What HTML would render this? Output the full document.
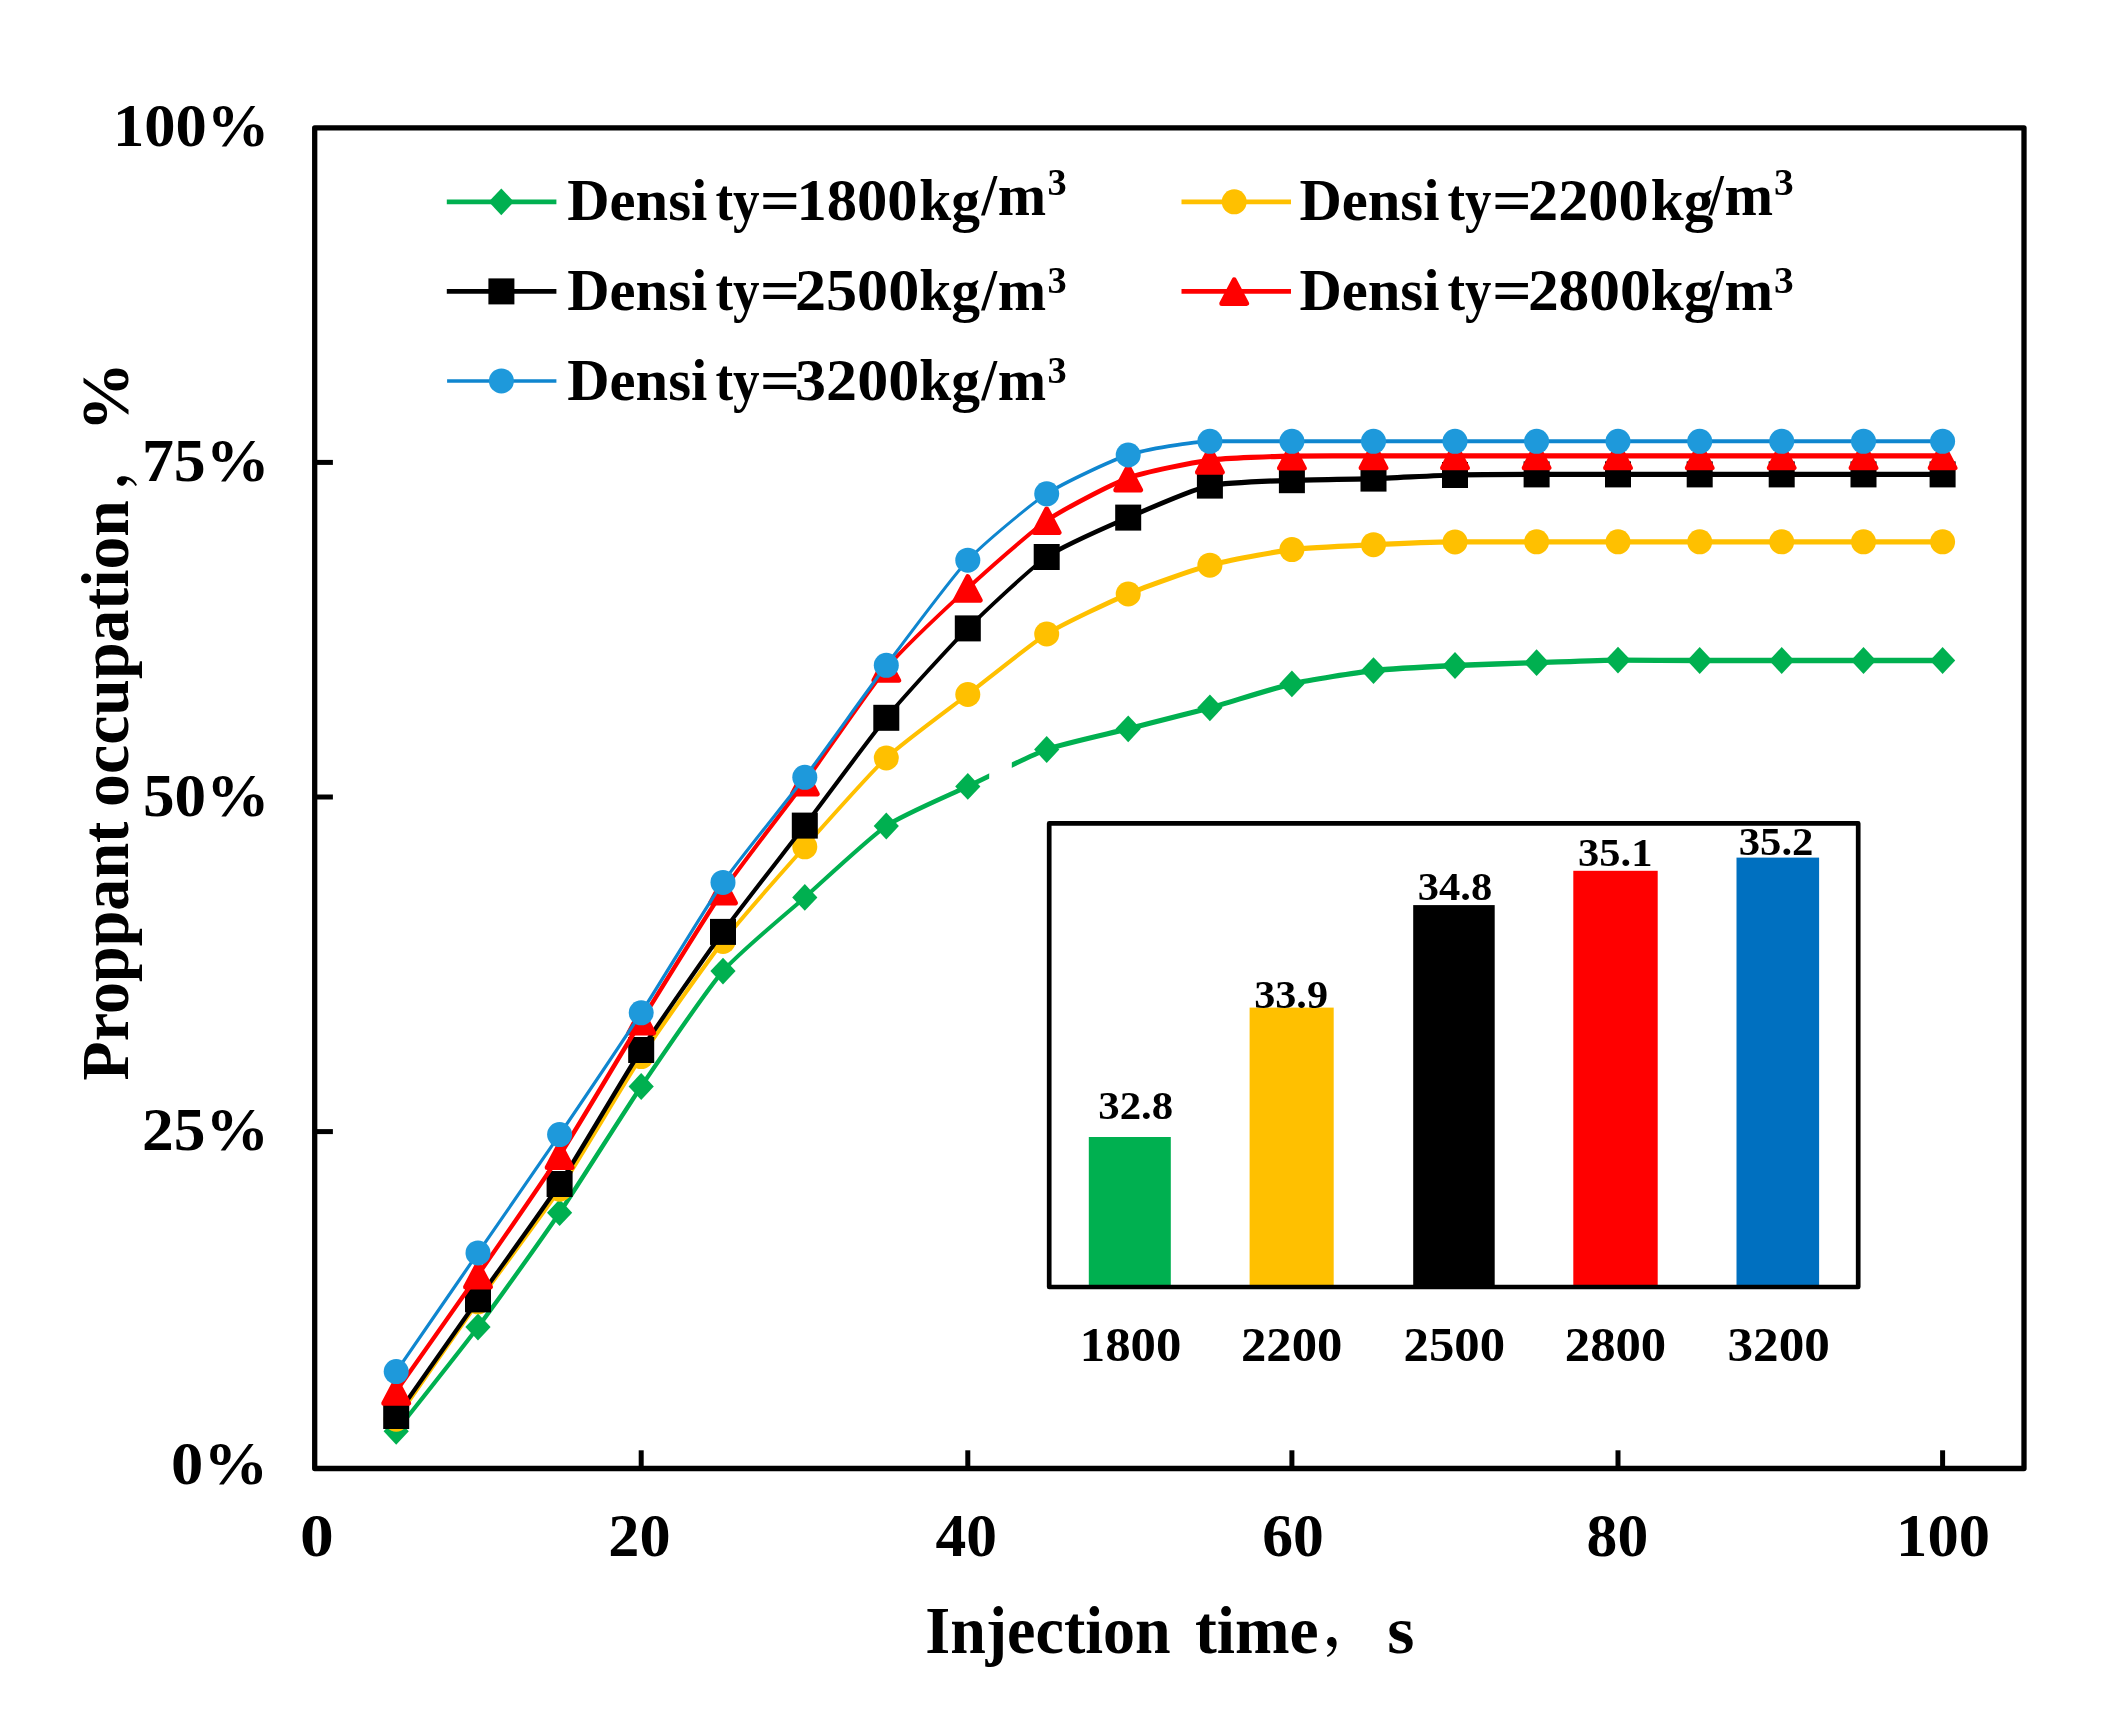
<!DOCTYPE html>
<html lang="en">
<head>
<meta charset="utf-8">
<title>Proppant occupation vs injection time</title>
<style>
html,body{margin:0;padding:0;background:#fff;}
body{width:2126px;height:1734px;overflow:hidden;}
svg{display:block;filter:blur(0.5px);}
text{font-family:"Liberation Serif","Noto Serif CJK SC",serif;font-weight:bold;fill:#000;}
</style>
</head>
<body>
<svg width="2126" height="1734" viewBox="0 0 2126 1734">
<rect x="0" y="0" width="2126" height="1734" fill="#ffffff"/>

<rect x="314.7" y="127.8" width="1709.3" height="1340.7" fill="none" stroke="#000" stroke-width="5.3" stroke-linejoin="round"/>
<line x1="314.7" y1="462.4" x2="332.9" y2="462.4" stroke="#000" stroke-width="5"/>
<line x1="314.7" y1="797.0" x2="332.9" y2="797.0" stroke="#000" stroke-width="5"/>
<line x1="314.7" y1="1131.6" x2="332.9" y2="1131.6" stroke="#000" stroke-width="5"/>
<line x1="641.2" y1="1468.5" x2="641.2" y2="1450.3" stroke="#000" stroke-width="5"/>
<line x1="967.8" y1="1468.5" x2="967.8" y2="1450.3" stroke="#000" stroke-width="5"/>
<line x1="1291.9" y1="1468.5" x2="1291.9" y2="1450.3" stroke="#000" stroke-width="5"/>
<line x1="1618.0" y1="1468.5" x2="1618.0" y2="1450.3" stroke="#000" stroke-width="5"/>
<line x1="1942.6" y1="1468.5" x2="1942.6" y2="1450.3" stroke="#000" stroke-width="5"/>
<text y="146.4"><tspan x="112.9" font-size="60.8" textLength="156.5" lengthAdjust="spacingAndGlyphs">100%</tspan></text>
<text y="481.3"><tspan x="141.9" font-size="60.8" textLength="127.6" lengthAdjust="spacingAndGlyphs">75%</tspan></text>
<text y="816.0"><tspan x="143.0" font-size="60.8" textLength="126.3" lengthAdjust="spacingAndGlyphs">50%</tspan></text>
<text y="1150.4"><tspan x="142.1" font-size="60.8" textLength="126.8" lengthAdjust="spacingAndGlyphs">25%</tspan></text>
<text y="1483.9"><tspan x="171.1" font-size="60.8" textLength="96.9" lengthAdjust="spacingAndGlyphs">0%</tspan></text>
<text y="1556.3"><tspan x="300.1" font-size="60.8" textLength="33.8" lengthAdjust="spacingAndGlyphs">0</tspan></text>
<text y="1556.3"><tspan x="608.3" font-size="60.8" textLength="62.3" lengthAdjust="spacingAndGlyphs">20</tspan></text>
<text y="1556.3"><tspan x="935.6" font-size="60.8" textLength="61.5" lengthAdjust="spacingAndGlyphs">40</tspan></text>
<text y="1556.3"><tspan x="1262.2" font-size="60.8" textLength="61.6" lengthAdjust="spacingAndGlyphs">60</tspan></text>
<text y="1556.3"><tspan x="1586.6" font-size="60.8" textLength="61.6" lengthAdjust="spacingAndGlyphs">80</tspan></text>
<text y="1556.3"><tspan x="1896.1" font-size="60.8" textLength="93.9" lengthAdjust="spacingAndGlyphs">100</tspan></text>
<text y="1652.9"><tspan x="925.3" font-size="68.5" textLength="245.3" lengthAdjust="spacingAndGlyphs">Injection</tspan> <tspan x="1194.9" font-size="68.5" textLength="123.7" lengthAdjust="spacingAndGlyphs">time</tspan><tspan x="1324.0" y="1645.0" font-size="54">，</tspan><tspan x="1387.2" y="1652.9" font-size="68.5" textLength="27.2" lengthAdjust="spacingAndGlyphs">s</tspan></text>
<text transform="translate(127.9,0) rotate(-90)" y="0"><tspan x="-1080.5" font-size="68.5" textLength="258.9" lengthAdjust="spacingAndGlyphs">Proppant</tspan> <tspan x="-806.9" font-size="68.5" textLength="306.8" lengthAdjust="spacingAndGlyphs">occupation</tspan><tspan x="-488.7" y="-3.4" font-size="54">，</tspan><tspan x="-431.6" y="0.0" font-size="68.5" textLength="69.6" lengthAdjust="spacingAndGlyphs">%</tspan></text>
<path d="M396.2,1431.3 C412.6,1410.4 461.6,1348.9 478.0,1327.0" fill="none" stroke="#00b050" stroke-width="4.17" stroke-linecap="round"/>
<path d="M478.0,1327.0 C494.3,1305.2 543.3,1236.8 559.6,1212.7" fill="none" stroke="#00b050" stroke-width="4.31" stroke-linecap="round"/>
<path d="M559.6,1212.7 C575.9,1188.7 624.9,1110.6 641.2,1086.5" fill="none" stroke="#00b050" stroke-width="4.45" stroke-linecap="round"/>
<path d="M641.2,1086.5 C657.6,1062.3 706.6,990.0 723.0,971.1" fill="none" stroke="#00b050" stroke-width="4.32" stroke-linecap="round"/>
<path d="M723.0,971.1 C739.4,952.2 788.4,911.9 804.8,897.4" fill="none" stroke="#00b050" stroke-width="3.94" stroke-linecap="round"/>
<path d="M804.8,897.4 C821.1,882.9 870.0,837.1 886.3,826.0" fill="none" stroke="#00b050" stroke-width="3.99" stroke-linecap="round"/>
<path d="M886.3,826.0 C902.6,814.9 951.5,794.2 967.8,786.4" fill="none" stroke="#00b050" stroke-width="4.77" stroke-linecap="round"/>
<path d="M967.8,786.4 C983.6,778.9 1030.9,755.2 1046.7,749.5" fill="none" stroke="#00b050" stroke-width="4.80" stroke-linecap="round"/>
<path d="M1046.7,749.5 C1063.0,743.6 1111.9,733.0 1128.2,728.8" fill="none" stroke="#00b050" stroke-width="5.14" stroke-linecap="round"/>
<path d="M1128.2,728.8 C1144.5,724.6 1193.6,712.3 1209.9,707.8" fill="none" stroke="#00b050" stroke-width="5.13" stroke-linecap="round"/>
<path d="M1209.9,707.8 C1226.3,703.3 1275.5,687.6 1291.9,683.9" fill="none" stroke="#00b050" stroke-width="5.09" stroke-linecap="round"/>
<path d="M1291.9,683.9 C1308.2,680.2 1357.2,672.4 1373.5,670.6" fill="none" stroke="#00b050" stroke-width="5.23" stroke-linecap="round"/>
<path d="M1373.5,670.6 C1389.8,668.8 1438.7,666.3 1455.0,665.5" fill="none" stroke="#00b050" stroke-width="5.29" stroke-linecap="round"/>
<path d="M1455.0,665.5 C1471.3,664.7 1520.3,663.2 1536.6,662.7" fill="none" stroke="#00b050" stroke-width="5.30" stroke-linecap="round"/>
<path d="M1536.6,662.7 C1552.9,662.2 1601.7,660.1 1618.0,660.1" fill="none" stroke="#00b050" stroke-width="5.30" stroke-linecap="round"/>
<path d="M1618.0,660.1 C1634.3,660.1 1683.4,660.5 1699.7,660.5" fill="none" stroke="#00b050" stroke-width="5.30" stroke-linecap="round"/>
<path d="M1699.7,660.5 C1716.1,660.5 1765.3,660.5 1781.7,660.5" fill="none" stroke="#00b050" stroke-width="5.30" stroke-linecap="round"/>
<path d="M1781.7,660.5 C1798.1,660.5 1847.1,660.5 1863.5,660.5" fill="none" stroke="#00b050" stroke-width="5.30" stroke-linecap="round"/>
<path d="M1863.5,660.5 C1879.3,660.5 1926.8,660.5 1942.6,660.5" fill="none" stroke="#00b050" stroke-width="5.30" stroke-linecap="round"/>
<rect x="989.2" y="730" width="22.6" height="70" fill="#fff"/>
<polygon points="396.2,1417.9 408.8,1431.3 396.2,1444.7 383.6,1431.3" fill="#00b050"/>
<polygon points="478.0,1313.6 490.6,1327.0 478.0,1340.4 465.4,1327.0" fill="#00b050"/>
<polygon points="559.6,1199.3 572.2,1212.7 559.6,1226.1 547.0,1212.7" fill="#00b050"/>
<polygon points="641.2,1073.1 653.8,1086.5 641.2,1099.9 628.6,1086.5" fill="#00b050"/>
<polygon points="723.0,957.7 735.6,971.1 723.0,984.5 710.4,971.1" fill="#00b050"/>
<polygon points="804.8,884.0 817.4,897.4 804.8,910.8 792.2,897.4" fill="#00b050"/>
<polygon points="886.3,812.6 898.9,826.0 886.3,839.4 873.7,826.0" fill="#00b050"/>
<polygon points="967.8,773.0 980.4,786.4 967.8,799.8 955.2,786.4" fill="#00b050"/>
<polygon points="1046.7,736.1 1059.3,749.5 1046.7,762.9 1034.1,749.5" fill="#00b050"/>
<polygon points="1128.2,715.4 1140.8,728.8 1128.2,742.2 1115.6,728.8" fill="#00b050"/>
<polygon points="1209.9,694.4 1222.5,707.8 1209.9,721.2 1197.3,707.8" fill="#00b050"/>
<polygon points="1291.9,670.5 1304.5,683.9 1291.9,697.3 1279.3,683.9" fill="#00b050"/>
<polygon points="1373.5,657.2 1386.1,670.6 1373.5,684.0 1360.9,670.6" fill="#00b050"/>
<polygon points="1455.0,652.1 1467.6,665.5 1455.0,678.9 1442.4,665.5" fill="#00b050"/>
<polygon points="1536.6,649.3 1549.2,662.7 1536.6,676.1 1524.0,662.7" fill="#00b050"/>
<polygon points="1618.0,646.7 1630.6,660.1 1618.0,673.5 1605.4,660.1" fill="#00b050"/>
<polygon points="1699.7,647.1 1712.3,660.5 1699.7,673.9 1687.1,660.5" fill="#00b050"/>
<polygon points="1781.7,647.1 1794.3,660.5 1781.7,673.9 1769.1,660.5" fill="#00b050"/>
<polygon points="1863.5,647.1 1876.1,660.5 1863.5,673.9 1850.9,660.5" fill="#00b050"/>
<polygon points="1942.6,647.1 1955.2,660.5 1942.6,673.9 1930.0,660.5" fill="#00b050"/>
<path d="M396.2,1419.2 C412.6,1395.7 461.6,1324.8 478.0,1301.8" fill="none" stroke="#ffc000" stroke-width="4.27" stroke-linecap="round"/>
<path d="M478.0,1301.8 C494.3,1278.8 543.3,1213.7 559.6,1189.2" fill="none" stroke="#ffc000" stroke-width="4.21" stroke-linecap="round"/>
<path d="M559.6,1189.2 C575.9,1164.7 624.9,1081.3 641.2,1056.6" fill="none" stroke="#ffc000" stroke-width="4.43" stroke-linecap="round"/>
<path d="M641.2,1056.6 C657.6,1031.8 706.6,962.5 723.0,941.5" fill="none" stroke="#ffc000" stroke-width="4.24" stroke-linecap="round"/>
<path d="M723.0,941.5 C739.4,920.5 788.4,865.2 804.8,846.8" fill="none" stroke="#ffc000" stroke-width="3.94" stroke-linecap="round"/>
<path d="M804.8,846.8 C821.1,828.5 870.0,773.2 886.3,758.0" fill="none" stroke="#ffc000" stroke-width="3.83" stroke-linecap="round"/>
<path d="M886.3,758.0 C902.6,742.8 951.5,707.1 967.8,694.5" fill="none" stroke="#ffc000" stroke-width="4.10" stroke-linecap="round"/>
<path d="M967.8,694.5 C983.6,682.3 1030.9,643.9 1046.7,634.0" fill="none" stroke="#ffc000" stroke-width="4.13" stroke-linecap="round"/>
<path d="M1046.7,634.0 C1063.0,623.8 1111.9,600.9 1128.2,594.0" fill="none" stroke="#ffc000" stroke-width="4.67" stroke-linecap="round"/>
<path d="M1128.2,594.0 C1144.5,587.1 1193.6,569.6 1209.9,565.2" fill="none" stroke="#ffc000" stroke-width="4.90" stroke-linecap="round"/>
<path d="M1209.9,565.2 C1226.3,560.7 1275.5,551.7 1291.9,549.6" fill="none" stroke="#ffc000" stroke-width="5.11" stroke-linecap="round"/>
<path d="M1291.9,549.6 C1308.2,547.6 1357.2,545.5 1373.5,544.7" fill="none" stroke="#ffc000" stroke-width="5.19" stroke-linecap="round"/>
<path d="M1373.5,544.7 C1389.8,543.9 1438.7,542.0 1455.0,541.9" fill="none" stroke="#ffc000" stroke-width="5.20" stroke-linecap="round"/>
<path d="M1455.0,541.9 C1471.3,541.8 1520.3,541.8 1536.6,541.8" fill="none" stroke="#ffc000" stroke-width="5.20" stroke-linecap="round"/>
<path d="M1536.6,541.8 C1552.9,541.8 1601.7,541.8 1618.0,541.8" fill="none" stroke="#ffc000" stroke-width="5.20" stroke-linecap="round"/>
<path d="M1618.0,541.8 C1634.3,541.8 1683.4,541.8 1699.7,541.8" fill="none" stroke="#ffc000" stroke-width="5.20" stroke-linecap="round"/>
<path d="M1699.7,541.8 C1716.1,541.8 1765.3,541.8 1781.7,541.8" fill="none" stroke="#ffc000" stroke-width="5.20" stroke-linecap="round"/>
<path d="M1781.7,541.8 C1798.1,541.8 1847.1,541.8 1863.5,541.8" fill="none" stroke="#ffc000" stroke-width="5.20" stroke-linecap="round"/>
<path d="M1863.5,541.8 C1879.3,541.8 1926.8,541.8 1942.6,541.8" fill="none" stroke="#ffc000" stroke-width="5.20" stroke-linecap="round"/>
<circle cx="396.2" cy="1419.2" r="12.5" fill="#ffc000"/>
<circle cx="478.0" cy="1301.8" r="12.5" fill="#ffc000"/>
<circle cx="559.6" cy="1189.2" r="12.5" fill="#ffc000"/>
<circle cx="641.2" cy="1056.6" r="12.5" fill="#ffc000"/>
<circle cx="723.0" cy="941.5" r="12.5" fill="#ffc000"/>
<circle cx="804.8" cy="846.8" r="12.5" fill="#ffc000"/>
<circle cx="886.3" cy="758.0" r="12.5" fill="#ffc000"/>
<circle cx="967.8" cy="694.5" r="12.5" fill="#ffc000"/>
<circle cx="1046.7" cy="634.0" r="12.5" fill="#ffc000"/>
<circle cx="1128.2" cy="594.0" r="12.5" fill="#ffc000"/>
<circle cx="1209.9" cy="565.2" r="12.5" fill="#ffc000"/>
<circle cx="1291.9" cy="549.6" r="12.5" fill="#ffc000"/>
<circle cx="1373.5" cy="544.7" r="12.5" fill="#ffc000"/>
<circle cx="1455.0" cy="541.9" r="12.5" fill="#ffc000"/>
<circle cx="1536.6" cy="541.8" r="12.5" fill="#ffc000"/>
<circle cx="1618.0" cy="541.8" r="12.5" fill="#ffc000"/>
<circle cx="1699.7" cy="541.8" r="12.5" fill="#ffc000"/>
<circle cx="1781.7" cy="541.8" r="12.5" fill="#ffc000"/>
<circle cx="1863.5" cy="541.8" r="12.5" fill="#ffc000"/>
<circle cx="1942.6" cy="541.8" r="12.5" fill="#ffc000"/>
<path d="M396.2,1416.0 C412.6,1392.7 461.6,1322.6 478.0,1299.4" fill="none" stroke="#000000" stroke-width="4.26" stroke-linecap="round"/>
<path d="M478.0,1299.4 C494.3,1276.2 543.3,1208.9 559.6,1184.0" fill="none" stroke="#000000" stroke-width="4.25" stroke-linecap="round"/>
<path d="M559.6,1184.0 C575.9,1159.1 624.9,1075.2 641.2,1050.0" fill="none" stroke="#000000" stroke-width="4.44" stroke-linecap="round"/>
<path d="M641.2,1050.0 C657.6,1024.8 706.6,954.3 723.0,931.9" fill="none" stroke="#000000" stroke-width="4.27" stroke-linecap="round"/>
<path d="M723.0,931.9 C739.4,909.5 788.4,847.0 804.8,825.6" fill="none" stroke="#000000" stroke-width="4.12" stroke-linecap="round"/>
<path d="M804.8,825.6 C821.1,804.2 870.0,737.5 886.3,717.8" fill="none" stroke="#000000" stroke-width="4.15" stroke-linecap="round"/>
<path d="M886.3,717.8 C902.6,698.1 951.5,644.7 967.8,628.4" fill="none" stroke="#000000" stroke-width="3.84" stroke-linecap="round"/>
<path d="M967.8,628.4 C983.6,612.6 1030.9,568.0 1046.7,557.0" fill="none" stroke="#000000" stroke-width="3.86" stroke-linecap="round"/>
<path d="M1046.7,557.0 C1063.0,545.7 1111.9,524.7 1128.2,517.6" fill="none" stroke="#000000" stroke-width="4.68" stroke-linecap="round"/>
<path d="M1128.2,517.6 C1144.5,510.5 1193.6,488.8 1209.9,485.6" fill="none" stroke="#000000" stroke-width="4.84" stroke-linecap="round"/>
<path d="M1209.9,485.6 C1226.3,482.4 1275.5,480.8 1291.9,480.2" fill="none" stroke="#000000" stroke-width="5.19" stroke-linecap="round"/>
<path d="M1291.9,480.2 C1308.2,479.6 1357.2,479.1 1373.5,478.6" fill="none" stroke="#000000" stroke-width="5.20" stroke-linecap="round"/>
<path d="M1373.5,478.6 C1389.8,478.1 1438.7,475.4 1455.0,475.0" fill="none" stroke="#000000" stroke-width="5.19" stroke-linecap="round"/>
<path d="M1455.0,475.0 C1471.3,474.6 1520.3,474.4 1536.6,474.4" fill="none" stroke="#000000" stroke-width="5.20" stroke-linecap="round"/>
<path d="M1536.6,474.4 C1552.9,474.4 1601.7,474.4 1618.0,474.4" fill="none" stroke="#000000" stroke-width="5.20" stroke-linecap="round"/>
<path d="M1618.0,474.4 C1634.3,474.4 1683.4,474.4 1699.7,474.4" fill="none" stroke="#000000" stroke-width="5.20" stroke-linecap="round"/>
<path d="M1699.7,474.4 C1716.1,474.4 1765.3,474.4 1781.7,474.4" fill="none" stroke="#000000" stroke-width="5.20" stroke-linecap="round"/>
<path d="M1781.7,474.4 C1798.1,474.4 1847.1,474.4 1863.5,474.4" fill="none" stroke="#000000" stroke-width="5.20" stroke-linecap="round"/>
<path d="M1863.5,474.4 C1879.3,474.4 1926.8,474.4 1942.6,474.4" fill="none" stroke="#000000" stroke-width="5.20" stroke-linecap="round"/>
<rect x="383.2" y="1403.0" width="26" height="26" fill="#000000"/>
<rect x="465.0" y="1286.4" width="26" height="26" fill="#000000"/>
<rect x="546.6" y="1171.0" width="26" height="26" fill="#000000"/>
<rect x="628.2" y="1037.0" width="26" height="26" fill="#000000"/>
<rect x="710.0" y="918.9" width="26" height="26" fill="#000000"/>
<rect x="791.8" y="812.6" width="26" height="26" fill="#000000"/>
<rect x="873.3" y="704.8" width="26" height="26" fill="#000000"/>
<rect x="954.8" y="615.4" width="26" height="26" fill="#000000"/>
<rect x="1033.7" y="544.0" width="26" height="26" fill="#000000"/>
<rect x="1115.2" y="504.6" width="26" height="26" fill="#000000"/>
<rect x="1196.9" y="472.6" width="26" height="26" fill="#000000"/>
<rect x="1278.9" y="467.2" width="26" height="26" fill="#000000"/>
<rect x="1360.5" y="465.6" width="26" height="26" fill="#000000"/>
<rect x="1442.0" y="462.0" width="26" height="26" fill="#000000"/>
<rect x="1523.6" y="461.4" width="26" height="26" fill="#000000"/>
<rect x="1605.0" y="461.4" width="26" height="26" fill="#000000"/>
<rect x="1686.7" y="461.4" width="26" height="26" fill="#000000"/>
<rect x="1768.7" y="461.4" width="26" height="26" fill="#000000"/>
<rect x="1850.5" y="461.4" width="26" height="26" fill="#000000"/>
<rect x="1929.6" y="461.4" width="26" height="26" fill="#000000"/>
<path d="M396.2,1391.2 C412.6,1368.0 461.6,1298.6 478.0,1275.0" fill="none" stroke="#ff0000" stroke-width="4.25" stroke-linecap="round"/>
<path d="M478.0,1275.0 C494.3,1251.5 543.3,1180.9 559.6,1155.5" fill="none" stroke="#ff0000" stroke-width="4.29" stroke-linecap="round"/>
<path d="M559.6,1155.5 C575.9,1130.1 624.9,1047.4 641.2,1021.0" fill="none" stroke="#ff0000" stroke-width="4.45" stroke-linecap="round"/>
<path d="M641.2,1021.0 C657.6,994.5 706.6,914.9 723.0,891.0" fill="none" stroke="#ff0000" stroke-width="4.40" stroke-linecap="round"/>
<path d="M723.0,891.0 C739.4,867.1 788.4,804.3 804.8,782.0" fill="none" stroke="#ff0000" stroke-width="4.16" stroke-linecap="round"/>
<path d="M804.8,782.0 C821.1,759.8 870.0,687.7 886.3,668.3" fill="none" stroke="#ff0000" stroke-width="4.23" stroke-linecap="round"/>
<path d="M886.3,668.3 C902.6,648.9 951.5,603.2 967.8,588.2" fill="none" stroke="#ff0000" stroke-width="3.71" stroke-linecap="round"/>
<path d="M967.8,588.2 C983.6,573.7 1030.9,531.5 1046.7,520.6" fill="none" stroke="#ff0000" stroke-width="3.95" stroke-linecap="round"/>
<path d="M1046.7,520.6 C1063.0,509.4 1111.9,484.0 1128.2,478.0" fill="none" stroke="#ff0000" stroke-width="4.61" stroke-linecap="round"/>
<path d="M1128.2,478.0 C1144.5,471.9 1193.6,462.4 1209.9,460.2" fill="none" stroke="#ff0000" stroke-width="5.08" stroke-linecap="round"/>
<path d="M1209.9,460.2 C1226.3,458.0 1275.5,456.3 1291.9,456.1" fill="none" stroke="#ff0000" stroke-width="5.19" stroke-linecap="round"/>
<path d="M1291.9,456.1 C1308.2,455.9 1357.2,455.8 1373.5,455.8" fill="none" stroke="#ff0000" stroke-width="5.20" stroke-linecap="round"/>
<path d="M1373.5,455.8 C1389.8,455.8 1438.7,455.8 1455.0,455.8" fill="none" stroke="#ff0000" stroke-width="5.20" stroke-linecap="round"/>
<path d="M1455.0,455.8 C1471.3,455.8 1520.3,455.8 1536.6,455.8" fill="none" stroke="#ff0000" stroke-width="5.20" stroke-linecap="round"/>
<path d="M1536.6,455.8 C1552.9,455.8 1601.7,455.8 1618.0,455.8" fill="none" stroke="#ff0000" stroke-width="5.20" stroke-linecap="round"/>
<path d="M1618.0,455.8 C1634.3,455.8 1683.4,455.8 1699.7,455.8" fill="none" stroke="#ff0000" stroke-width="5.20" stroke-linecap="round"/>
<path d="M1699.7,455.8 C1716.1,455.8 1765.3,455.8 1781.7,455.8" fill="none" stroke="#ff0000" stroke-width="5.20" stroke-linecap="round"/>
<path d="M1781.7,455.8 C1798.1,455.8 1847.1,455.8 1863.5,455.8" fill="none" stroke="#ff0000" stroke-width="5.20" stroke-linecap="round"/>
<path d="M1863.5,455.8 C1879.3,455.8 1926.8,455.8 1942.6,455.8" fill="none" stroke="#ff0000" stroke-width="5.20" stroke-linecap="round"/>
<polygon points="396.2,1379.6 408.6,1403.2 383.8,1403.2" fill="#ff0000" stroke="#ff0000" stroke-width="5" stroke-linejoin="round"/>
<polygon points="478.0,1263.4 490.4,1287.0 465.6,1287.0" fill="#ff0000" stroke="#ff0000" stroke-width="5" stroke-linejoin="round"/>
<polygon points="559.6,1143.9 572.0,1167.5 547.2,1167.5" fill="#ff0000" stroke="#ff0000" stroke-width="5" stroke-linejoin="round"/>
<polygon points="641.2,1009.4 653.6,1033.0 628.8,1033.0" fill="#ff0000" stroke="#ff0000" stroke-width="5" stroke-linejoin="round"/>
<polygon points="723.0,879.4 735.4,903.0 710.6,903.0" fill="#ff0000" stroke="#ff0000" stroke-width="5" stroke-linejoin="round"/>
<polygon points="804.8,770.4 817.2,794.0 792.4,794.0" fill="#ff0000" stroke="#ff0000" stroke-width="5" stroke-linejoin="round"/>
<polygon points="886.3,656.7 898.7,680.3 873.9,680.3" fill="#ff0000" stroke="#ff0000" stroke-width="5" stroke-linejoin="round"/>
<polygon points="967.8,576.6 980.2,600.2 955.4,600.2" fill="#ff0000" stroke="#ff0000" stroke-width="5" stroke-linejoin="round"/>
<polygon points="1046.7,509.0 1059.1,532.6 1034.3,532.6" fill="#ff0000" stroke="#ff0000" stroke-width="5" stroke-linejoin="round"/>
<polygon points="1128.2,466.4 1140.6,490.0 1115.8,490.0" fill="#ff0000" stroke="#ff0000" stroke-width="5" stroke-linejoin="round"/>
<polygon points="1209.9,448.6 1222.3,472.2 1197.5,472.2" fill="#ff0000" stroke="#ff0000" stroke-width="5" stroke-linejoin="round"/>
<polygon points="1291.9,444.5 1304.3,468.1 1279.5,468.1" fill="#ff0000" stroke="#ff0000" stroke-width="5" stroke-linejoin="round"/>
<polygon points="1373.5,444.2 1385.9,467.8 1361.1,467.8" fill="#ff0000" stroke="#ff0000" stroke-width="5" stroke-linejoin="round"/>
<polygon points="1455.0,444.2 1467.4,467.8 1442.6,467.8" fill="#ff0000" stroke="#ff0000" stroke-width="5" stroke-linejoin="round"/>
<polygon points="1536.6,444.2 1549.0,467.8 1524.2,467.8" fill="#ff0000" stroke="#ff0000" stroke-width="5" stroke-linejoin="round"/>
<polygon points="1618.0,444.2 1630.4,467.8 1605.6,467.8" fill="#ff0000" stroke="#ff0000" stroke-width="5" stroke-linejoin="round"/>
<polygon points="1699.7,444.2 1712.1,467.8 1687.3,467.8" fill="#ff0000" stroke="#ff0000" stroke-width="5" stroke-linejoin="round"/>
<polygon points="1781.7,444.2 1794.1,467.8 1769.3,467.8" fill="#ff0000" stroke="#ff0000" stroke-width="5" stroke-linejoin="round"/>
<polygon points="1863.5,444.2 1875.9,467.8 1851.1,467.8" fill="#ff0000" stroke="#ff0000" stroke-width="5" stroke-linejoin="round"/>
<polygon points="1942.6,444.2 1955.0,467.8 1930.2,467.8" fill="#ff0000" stroke="#ff0000" stroke-width="5" stroke-linejoin="round"/>
<path d="M396.2,1371.6 C412.6,1347.9 461.6,1276.6 478.0,1252.9" fill="none" stroke="#0f86cf" stroke-width="3.21" stroke-linecap="round"/>
<path d="M478.0,1252.9 C494.3,1229.2 543.3,1158.6 559.6,1134.6" fill="none" stroke="#0f86cf" stroke-width="3.21" stroke-linecap="round"/>
<path d="M559.6,1134.6 C575.9,1110.6 624.9,1038.0 641.2,1012.8" fill="none" stroke="#0f86cf" stroke-width="3.24" stroke-linecap="round"/>
<path d="M641.2,1012.8 C657.6,987.6 706.6,905.9 723.0,882.4" fill="none" stroke="#0f86cf" stroke-width="3.30" stroke-linecap="round"/>
<path d="M723.0,882.4 C739.4,858.9 788.4,799.1 804.8,777.3" fill="none" stroke="#0f86cf" stroke-width="3.08" stroke-linecap="round"/>
<path d="M804.8,777.3 C821.1,755.6 870.0,687.0 886.3,665.3" fill="none" stroke="#0f86cf" stroke-width="3.15" stroke-linecap="round"/>
<path d="M886.3,665.3 C902.6,643.6 951.5,577.6 967.8,560.2" fill="none" stroke="#0f86cf" stroke-width="3.08" stroke-linecap="round"/>
<path d="M967.8,560.2 C983.6,543.4 1030.9,504.2 1046.7,493.8" fill="none" stroke="#0f86cf" stroke-width="2.98" stroke-linecap="round"/>
<path d="M1046.7,493.8 C1063.0,483.1 1111.9,460.2 1128.2,455.0" fill="none" stroke="#0f86cf" stroke-width="3.52" stroke-linecap="round"/>
<path d="M1128.2,455.0 C1144.5,449.7 1193.6,441.3 1209.9,441.3" fill="none" stroke="#0f86cf" stroke-width="3.85" stroke-linecap="round"/>
<path d="M1209.9,441.3 C1226.3,441.3 1275.5,441.3 1291.9,441.3" fill="none" stroke="#0f86cf" stroke-width="3.90" stroke-linecap="round"/>
<path d="M1291.9,441.3 C1308.2,441.3 1357.2,441.3 1373.5,441.3" fill="none" stroke="#0f86cf" stroke-width="3.90" stroke-linecap="round"/>
<path d="M1373.5,441.3 C1389.8,441.3 1438.7,441.3 1455.0,441.3" fill="none" stroke="#0f86cf" stroke-width="3.90" stroke-linecap="round"/>
<path d="M1455.0,441.3 C1471.3,441.3 1520.3,441.3 1536.6,441.3" fill="none" stroke="#0f86cf" stroke-width="3.90" stroke-linecap="round"/>
<path d="M1536.6,441.3 C1552.9,441.3 1601.7,441.3 1618.0,441.3" fill="none" stroke="#0f86cf" stroke-width="3.90" stroke-linecap="round"/>
<path d="M1618.0,441.3 C1634.3,441.3 1683.4,441.3 1699.7,441.3" fill="none" stroke="#0f86cf" stroke-width="3.90" stroke-linecap="round"/>
<path d="M1699.7,441.3 C1716.1,441.3 1765.3,441.3 1781.7,441.3" fill="none" stroke="#0f86cf" stroke-width="3.90" stroke-linecap="round"/>
<path d="M1781.7,441.3 C1798.1,441.3 1847.1,441.3 1863.5,441.3" fill="none" stroke="#0f86cf" stroke-width="3.90" stroke-linecap="round"/>
<path d="M1863.5,441.3 C1879.3,441.3 1926.8,441.3 1942.6,441.3" fill="none" stroke="#0f86cf" stroke-width="3.90" stroke-linecap="round"/>
<circle cx="396.2" cy="1371.6" r="12.5" fill="#1e99db"/>
<circle cx="478.0" cy="1252.9" r="12.5" fill="#1e99db"/>
<circle cx="559.6" cy="1134.6" r="12.5" fill="#1e99db"/>
<circle cx="641.2" cy="1012.8" r="12.5" fill="#1e99db"/>
<circle cx="723.0" cy="882.4" r="12.5" fill="#1e99db"/>
<circle cx="804.8" cy="777.3" r="12.5" fill="#1e99db"/>
<circle cx="886.3" cy="665.3" r="12.5" fill="#1e99db"/>
<circle cx="967.8" cy="560.2" r="12.5" fill="#1e99db"/>
<circle cx="1046.7" cy="493.8" r="12.5" fill="#1e99db"/>
<circle cx="1128.2" cy="455.0" r="12.5" fill="#1e99db"/>
<circle cx="1209.9" cy="441.3" r="12.5" fill="#1e99db"/>
<circle cx="1291.9" cy="441.3" r="12.5" fill="#1e99db"/>
<circle cx="1373.5" cy="441.3" r="12.5" fill="#1e99db"/>
<circle cx="1455.0" cy="441.3" r="12.5" fill="#1e99db"/>
<circle cx="1536.6" cy="441.3" r="12.5" fill="#1e99db"/>
<circle cx="1618.0" cy="441.3" r="12.5" fill="#1e99db"/>
<circle cx="1699.7" cy="441.3" r="12.5" fill="#1e99db"/>
<circle cx="1781.7" cy="441.3" r="12.5" fill="#1e99db"/>
<circle cx="1863.5" cy="441.3" r="12.5" fill="#1e99db"/>
<circle cx="1942.6" cy="441.3" r="12.5" fill="#1e99db"/>
<line x1="446.8" y1="201.8" x2="556.4" y2="201.8" stroke="#00b050" stroke-width="4.77" stroke-linecap="butt"/>
<polygon points="501.3,188.4 513.9,201.8 501.3,215.2 488.7,201.8" fill="#00b050"/>
<text y="219.8"><tspan x="567.3" y="219.8" font-size="59.5" textLength="139.9" lengthAdjust="spacingAndGlyphs">Densi</tspan><tspan x="715.4" font-size="59.5" textLength="44.1" lengthAdjust="spacingAndGlyphs">ty</tspan><tspan x="759.7" font-size="59.5" textLength="40.4" lengthAdjust="spacingAndGlyphs">=</tspan><tspan x="796.4" font-size="59.5" textLength="121.3" lengthAdjust="spacingAndGlyphs">1800</tspan><tspan x="919.2" font-size="59.5" textLength="60.8" lengthAdjust="spacingAndGlyphs">kg</tspan><tspan x="981.6" y="214.8" font-size="59.5" textLength="15.5" lengthAdjust="spacingAndGlyphs">/</tspan><tspan x="997.7" y="214.8" font-size="59.5" textLength="48.4" lengthAdjust="spacingAndGlyphs">m</tspan><tspan x="1047.5" y="195.0" font-size="37" textLength="19.2" lengthAdjust="spacingAndGlyphs">3</tspan></text>
<line x1="446.8" y1="291.4" x2="556.4" y2="291.4" stroke="#000000" stroke-width="4.68" stroke-linecap="butt"/>
<rect x="488.4" y="278.4" width="26" height="26" fill="#000000"/>
<text y="309.8"><tspan x="567.3" y="309.8" font-size="59.5" textLength="139.9" lengthAdjust="spacingAndGlyphs">Densi</tspan><tspan x="715.4" font-size="59.5" textLength="44.1" lengthAdjust="spacingAndGlyphs">ty</tspan><tspan x="759.7" font-size="59.5" textLength="40.4" lengthAdjust="spacingAndGlyphs">=</tspan><tspan x="794.9" font-size="59.5" textLength="124.4" lengthAdjust="spacingAndGlyphs">2500</tspan><tspan x="919.2" font-size="59.5" textLength="60.8" lengthAdjust="spacingAndGlyphs">kg</tspan><tspan x="981.6" y="309.8" font-size="59.5" textLength="15.5" lengthAdjust="spacingAndGlyphs">/</tspan><tspan x="997.7" y="309.8" font-size="59.5" textLength="48.4" lengthAdjust="spacingAndGlyphs">m</tspan><tspan x="1047.5" y="292.8" font-size="37" textLength="19.2" lengthAdjust="spacingAndGlyphs">3</tspan></text>
<line x1="447.1" y1="380.9" x2="556.4" y2="380.9" stroke="#0f86cf" stroke-width="3.51" stroke-linecap="butt"/>
<circle cx="501.4" cy="380.9" r="12.5" fill="#1e99db"/>
<text y="399.5"><tspan x="567.3" y="399.5" font-size="59.5" textLength="139.9" lengthAdjust="spacingAndGlyphs">Densi</tspan><tspan x="715.4" font-size="59.5" textLength="44.1" lengthAdjust="spacingAndGlyphs">ty</tspan><tspan x="759.7" font-size="59.5" textLength="40.4" lengthAdjust="spacingAndGlyphs">=</tspan><tspan x="795.1" font-size="59.5" textLength="124.1" lengthAdjust="spacingAndGlyphs">3200</tspan><tspan x="919.2" font-size="59.5" textLength="60.8" lengthAdjust="spacingAndGlyphs">kg</tspan><tspan x="981.6" y="399.5" font-size="59.5" textLength="15.5" lengthAdjust="spacingAndGlyphs">/</tspan><tspan x="997.7" y="399.5" font-size="59.5" textLength="48.4" lengthAdjust="spacingAndGlyphs">m</tspan><tspan x="1047.5" y="382.5" font-size="37" textLength="19.2" lengthAdjust="spacingAndGlyphs">3</tspan></text>
<line x1="1181.5" y1="201.8" x2="1291.0" y2="201.8" stroke="#ffc000" stroke-width="4.68" stroke-linecap="butt"/>
<circle cx="1234.2" cy="201.8" r="12.5" fill="#ffc000"/>
<text y="219.8"><tspan x="1299.5" y="219.8" font-size="59.5" textLength="139.9" lengthAdjust="spacingAndGlyphs">Densi</tspan><tspan x="1447.4" font-size="59.5" textLength="43.9" lengthAdjust="spacingAndGlyphs">ty</tspan><tspan x="1492.0" font-size="59.5" textLength="39.8" lengthAdjust="spacingAndGlyphs">=</tspan><tspan x="1528.0" font-size="59.5" textLength="120.5" lengthAdjust="spacingAndGlyphs">2200</tspan><tspan x="1650.7" font-size="59.5" textLength="62.6" lengthAdjust="spacingAndGlyphs">kg</tspan><tspan x="1708.8" y="214.8" font-size="59.5" textLength="15.0" lengthAdjust="spacingAndGlyphs">/</tspan><tspan x="1724.4" y="214.8" font-size="59.5" textLength="48.6" lengthAdjust="spacingAndGlyphs">m</tspan><tspan x="1774.0" y="195.0" font-size="37" textLength="19.7" lengthAdjust="spacingAndGlyphs">3</tspan></text>
<line x1="1181.5" y1="291.4" x2="1291.0" y2="291.4" stroke="#ff0000" stroke-width="4.68" stroke-linecap="butt"/>
<polygon points="1234.2,279.8 1246.6,303.4 1221.8,303.4" fill="#ff0000" stroke="#ff0000" stroke-width="5" stroke-linejoin="round"/>
<text y="309.8"><tspan x="1299.5" y="309.8" font-size="59.5" textLength="139.9" lengthAdjust="spacingAndGlyphs">Densi</tspan><tspan x="1447.4" font-size="59.5" textLength="43.9" lengthAdjust="spacingAndGlyphs">ty</tspan><tspan x="1492.0" font-size="59.5" textLength="39.8" lengthAdjust="spacingAndGlyphs">=</tspan><tspan x="1527.9" font-size="59.5" textLength="122.9" lengthAdjust="spacingAndGlyphs">2800</tspan><tspan x="1650.7" font-size="59.5" textLength="62.6" lengthAdjust="spacingAndGlyphs">kg</tspan><tspan x="1708.8" y="309.8" font-size="59.5" textLength="15.0" lengthAdjust="spacingAndGlyphs">/</tspan><tspan x="1724.4" y="309.8" font-size="59.5" textLength="48.6" lengthAdjust="spacingAndGlyphs">m</tspan><tspan x="1774.0" y="292.8" font-size="37" textLength="19.7" lengthAdjust="spacingAndGlyphs">3</tspan></text>
<rect x="1088.8" y="1137.0" width="82.0" height="150.0" fill="#00b050"/>
<rect x="1249.6" y="1007.6" width="84.1" height="279.4" fill="#ffc000"/>
<rect x="1413.2" y="905.1" width="81.5" height="381.9" fill="#000000"/>
<rect x="1573.3" y="870.8" width="84.4" height="416.2" fill="#ff0000"/>
<rect x="1736.5" y="857.6" width="82.6" height="429.4" fill="#0070c0"/>
<rect x="1049.2" y="823.4" width="809.0" height="463.6" fill="none" stroke="#000" stroke-width="4.7" stroke-linejoin="round"/>
<text y="1118.8"><tspan x="1098.3" font-size="40.5" textLength="74.9" lengthAdjust="spacingAndGlyphs">32.8</tspan></text>
<text y="1360.9"><tspan x="1079.8" font-size="47.5" textLength="101.5" lengthAdjust="spacingAndGlyphs">1800</tspan></text>
<text y="1008.0"><tspan x="1254.2" font-size="40.5" textLength="73.8" lengthAdjust="spacingAndGlyphs">33.9</tspan></text>
<text y="1360.9"><tspan x="1241.0" font-size="47.5" textLength="101.3" lengthAdjust="spacingAndGlyphs">2200</tspan></text>
<text y="899.8"><tspan x="1417.8" font-size="40.5" textLength="74.4" lengthAdjust="spacingAndGlyphs">34.8</tspan></text>
<text y="1360.9"><tspan x="1403.6" font-size="47.5" textLength="101.4" lengthAdjust="spacingAndGlyphs">2500</tspan></text>
<text y="866.3"><tspan x="1578.0" font-size="40.5" textLength="74.4" lengthAdjust="spacingAndGlyphs">35.1</tspan></text>
<text y="1360.9"><tspan x="1564.8" font-size="47.5" textLength="101.4" lengthAdjust="spacingAndGlyphs">2800</tspan></text>
<text y="855.0"><tspan x="1738.7" font-size="40.5" textLength="74.8" lengthAdjust="spacingAndGlyphs">35.2</tspan></text>
<text y="1360.9"><tspan x="1727.5" font-size="47.5" textLength="102.3" lengthAdjust="spacingAndGlyphs">3200</tspan></text>
</svg>
</body>
</html>
